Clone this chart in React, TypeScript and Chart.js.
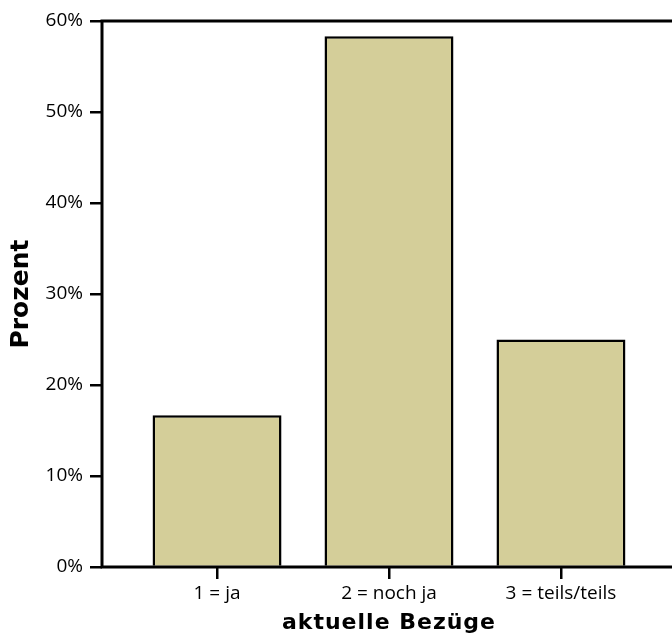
import React, { useEffect, useRef } from "react";
import { Chart, registerables } from "chart.js";

Chart.register(...registerables);

const categories = ["1 = ja", "2 = noch ja", "3 = teils/teils"];
const percentValues = [16.67, 58.33, 25.0];
const yTickValues = [0, 10, 20, 30, 40, 50, 60];
const xTitle = "aktuelle Bezüge";
const yTitle = "Prozent";

const TICK_FONT = "'Open Sans', sans-serif";
const TITLE_FONT = "'DejaVu Sans', sans-serif";

function patchTitleSpacing(scale: any, spacing: string) {
  if (scale._spacingPatched) return;
  scale._spacingPatched = true;
  const orig = scale.drawTitle.bind(scale);
  scale.drawTitle = function () {
    const ctx = this.ctx as any;
    const prev = ctx.letterSpacing;
    ctx.letterSpacing = spacing;
    orig();
    ctx.letterSpacing = prev || "0px";
  };
}

export default function App() {
  const ref = useRef<HTMLCanvasElement>(null);

  useEffect(() => {
    if (!ref.current) return;
    const boxPlugin = {
      id: "plotBox",
      afterDatasetsDraw(chart: any) {
        const { ctx, chartArea: a } = chart;
        ctx.save();
        ctx.strokeStyle = "#000";
        ctx.lineWidth = 3;
        ctx.strokeRect(a.left, a.top, a.right - a.left, a.bottom - a.top);
        ctx.restore();
      },
    };

    const chart = new Chart(ref.current, {
      type: "bar",
      data: {
        datasets: [
          {
            data: categories.map((c, i) => ({ x: i + 1, y: percentValues[i] })),
            backgroundColor: "#d4ce99",
            borderColor: "#000",
            borderWidth: 2.5,
            barPercentage: 0.75,
            categoryPercentage: 1,
          } as any,
        ],
      },
      options: {
        animation: false,
        responsive: false,
        layout: { padding: { top: 21, right: 10, left: 0, bottom: 0 } },
        plugins: { legend: { display: false }, tooltip: { enabled: false } },
        scales: {
          x: {
            type: "linear",
            offset: false,
            min: 0.331,
            max: 3.669,
            afterBuildTicks: (s: any) => {
              s.ticks = categories.map((_, i) => ({ value: i + 1 }));
            },
            ticks: {
              autoSkip: false,
              maxRotation: 0,
              color: "#000",
              padding: 3,
              font: { family: TICK_FONT, size: 19 },
              callback: (v: any) => categories[Math.round(Number(v)) - 1],
            },
            grid: {
              offset: false,
              drawOnChartArea: false,
              drawTicks: true,
              tickLength: 12,
              color: "#000",
              lineWidth: 2.5,
            },
            border: { display: false },
            title: {
              display: true,
              text: xTitle,
              color: "#000",
              font: { family: TITLE_FONT, size: 22, weight: "bold", lineHeight: 1.2 },
              padding: { top: 0, bottom: 3 },
            },
            afterFit: (s: any) => {
              s.height = 72;
              patchTitleSpacing(s, "1px");
            },
          } as any,
          y: {
            min: 0,
            max: 60,
            afterBuildTicks: (s: any) => {
              s.ticks = yTickValues.map((v) => ({ value: v }));
            },
            ticks: {
              color: "#000",
              padding: 7,
              font: { family: TICK_FONT, size: 19 },
              callback: (v: any) => `${v}%`,
            },
            grid: {
              drawOnChartArea: false,
              drawTicks: true,
              tickLength: 12,
              color: "#000",
              lineWidth: 2.5,
            },
            border: { display: false },
            title: {
              display: true,
              text: yTitle,
              color: "#000",
              font: { family: TITLE_FONT, size: 25, weight: "bold", lineHeight: 1.2 },
              padding: { top: 6, bottom: 0 },
            },
            afterFit: (s: any) => {
              s.width = 102;
            },
          } as any,
        },
      },
      plugins: [boxPlugin],
    });
    return () => chart.destroy();
  }, []);

  return (
    <div
      style={{
        position: "fixed",
        left: 0,
        top: 0,
        width: 672,
        height: 639,
        overflow: "hidden",
        background: "#fff",
      }}
    >
      <canvas ref={ref} width={686} height={639} style={{ display: "block", width: 686, height: 639 }} />
    </div>
  );
}
